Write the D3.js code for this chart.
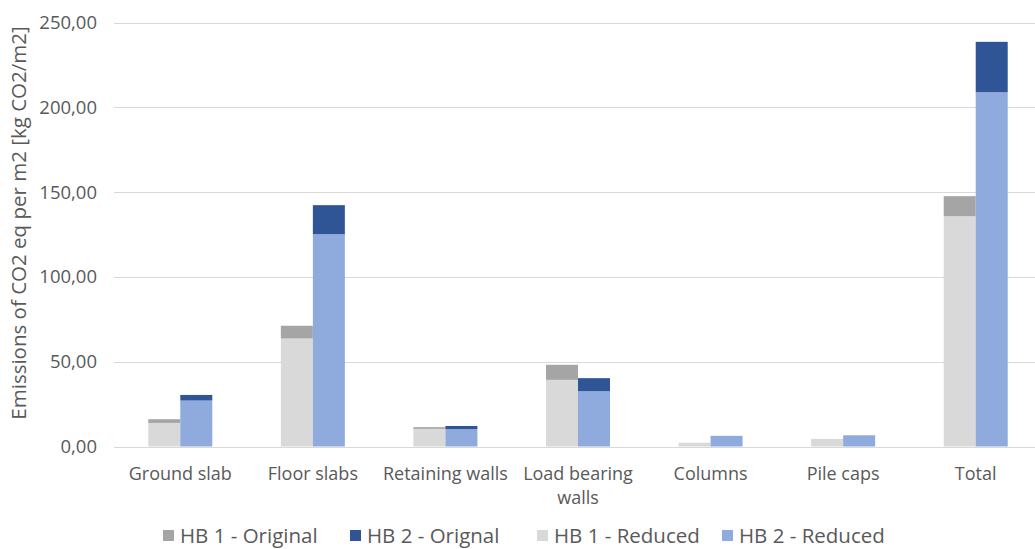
<!DOCTYPE html>
<html>
<head>
<meta charset="utf-8">
<script src="https://cdn.jsdelivr.net/npm/d3@7"></script>
<style>
  body { margin: 0; background: #fff; }
  svg { display: block; font-family: "Open Sans", "Noto Sans", sans-serif; }
</style>
</head>
<body>
<svg id="chart" width="1035" height="549"></svg>
<script>
// values (kg CO2/m2)
var categories = ["Ground slab", "Floor slabs", "Retaining walls", "Load bearing walls", "Columns", "Pile caps", "Total"];
var hb1Reduced = [13.9, 63.7, 10.4, 39.3, 2.2, 4.5, 135.8];
var hb1Extra   = [2.2, 7.5, 1.0, 8.9, 0, 0, 11.8];     // original minus reduced
var hb2Reduced = [27.1, 125.2, 10.2, 32.6, 6.3, 6.6, 208.9];
var hb2Extra   = [3.3, 17.1, 1.9, 7.7, 0, 0, 29.7];
var yTicks = [0, 50, 100, 150, 200, 250];
var legendNames = ["HB 1 - Original", "HB 2 - Orignal", "HB 1 - Reduced", "HB 2 - Reduced"];
var colors = ["#a5a5a5", "#2f5597", "#d9d9d9", "#8faadc"];

var svg = d3.select("#chart");

var x = d3.scaleBand().domain(categories).range([114, 1042]);
var y = d3.scaleLinear().domain([0, 250]).range([446.5, 22.5]);
var barW = 32;

// gridlines
svg.append("g").selectAll("line")
  .data(yTicks)
  .enter().append("line")
  .attr("x1", 114).attr("x2", 1035)
  .attr("y1", function(d){ return Math.round(y(d)) + 0.5; })
  .attr("y2", function(d){ return Math.round(y(d)) + 0.5; })
  .attr("stroke", "#d9d9d9").attr("stroke-width", 1);

// tick labels
svg.append("g").selectAll("text")
  .data(yTicks)
  .enter().append("text")
  .attr("x", 97)
  .attr("y", function(d){ return y(d); })
  .attr("dy", "0.35em")
  .attr("text-anchor", "end")
  .attr("fill", "#595959")
  .style("font-size", "18.5px")
  .text(function(d){ return d3.format(".2f")(d).replace(".", ","); });

// axis title
svg.append("text")
  .attr("transform", "translate(26,223) rotate(-90)")
  .attr("text-anchor", "middle")
  .attr("fill", "#595959")
  .style("font-size", "20.5px")
  .text("Emissions of CO2 eq per m2 [kg CO2/m2]");

var drawStack = function(base, extra, offset, cBase, cExtra){
  var g = svg.append("g");
  g.selectAll("rect.base")
    .data(categories)
    .enter().append("rect")
    .attr("class", "base")
    .attr("x", function(d){ return x(d) + x.bandwidth() / 2 + offset; })
    .attr("width", barW)
    .attr("y", function(d, i){ return y(base[i]); })
    .attr("height", function(d, i){ return y(0) - y(base[i]); })
    .attr("fill", cBase);
  g.selectAll("rect.extra")
    .data(categories)
    .enter().append("rect")
    .attr("class", "extra")
    .attr("x", function(d){ return x(d) + x.bandwidth() / 2 + offset; })
    .attr("width", barW)
    .attr("y", function(d, i){ return y(base[i] + extra[i]); })
    .attr("height", function(d, i){ return y(base[i]) - y(base[i] + extra[i]); })
    .attr("fill", cExtra);
};

drawStack(hb1Reduced, hb1Extra, -barW, colors[2], colors[0]);
drawStack(hb2Reduced, hb2Extra, 0, colors[3], colors[1]);

// category labels (wrap the long one like the original)
var catLabels = svg.append("g").selectAll("text")
  .data(categories)
  .enter().append("text")
  .attr("x", function(d){ return x(d) + x.bandwidth() / 2; })
  .attr("y", 480)
  .attr("text-anchor", "middle")
  .attr("fill", "#595959")
  .style("font-size", "18px");

catLabels.each(function(d){
  var t = d3.select(this);
  var parts = d === "Load bearing walls" ? ["Load bearing", "walls"] : [d];
  parts.forEach(function(p, i){
    t.append("tspan")
      .attr("x", x(d) + x.bandwidth() / 2)
      .attr("dy", i === 0 ? 0 : 24)
      .text(p);
  });
});

// legend
var legendX = [163, 350, 537, 722];
var legend = svg.append("g").selectAll("g")
  .data(legendNames)
  .enter().append("g")
  .attr("transform", function(d, i){ return "translate(" + legendX[i] + ",530)"; });

legend.append("rect")
  .attr("width", 11).attr("height", 11)
  .attr("fill", function(d, i){ return colors[i]; });

legend.append("text")
  .attr("x", 17).attr("y", 6)
  .attr("dy", "0.35em")
  .attr("fill", "#595959")
  .style("font-size", "20.5px")
  .text(function(d){ return d; });
</script>
</body>
</html>
